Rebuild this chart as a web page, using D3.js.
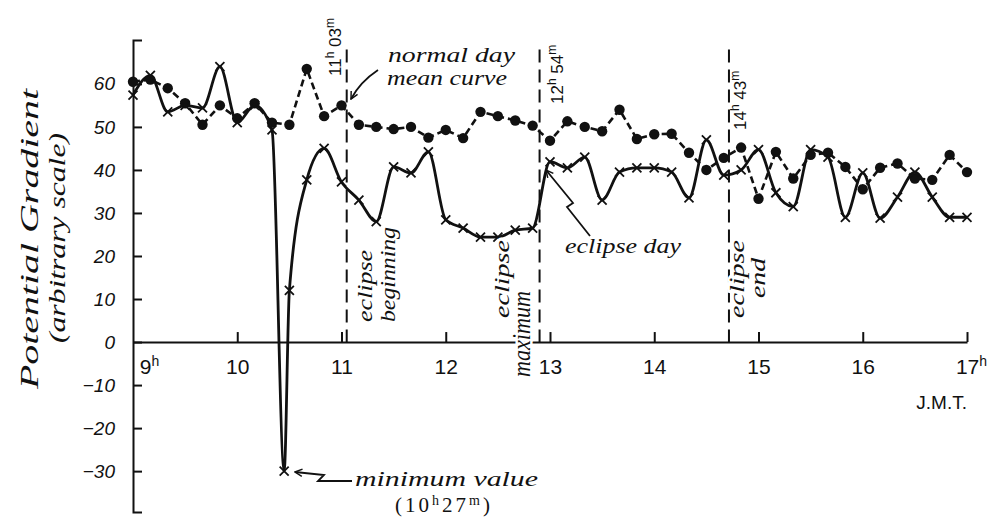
<!DOCTYPE html>
<html>
<head>
<meta charset="utf-8">
<script src="https://cdn.jsdelivr.net/npm/d3@7"></script>
<style>
  body { margin: 0; background: #fff; }
  svg { display: block; }
  .hand { font-family: "Liberation Serif", serif; font-style: italic; fill: #111; }
  .num { font-family: "Liberation Sans", sans-serif; fill: #111; }
</style>
</head>
<body>
<svg id="chart" width="992" height="518"></svg>
<script>
// Potential gradient during the eclipse vs normal-day mean curve

// normal day mean curve: one reading every 10 minutes, 9h to 17h
const normalTimes = [
  "9:00","9:10","9:20","9:30","9:40","9:50",
  "10:00","10:10","10:20","10:30","10:40","10:50",
  "11:00","11:10","11:20","11:30","11:40","11:50",
  "12:00","12:10","12:20","12:30","12:40","12:50",
  "13:00","13:10","13:20","13:30","13:40","13:50",
  "14:00","14:10","14:20","14:30","14:40","14:50",
  "15:00","15:10","15:20","15:30","15:40","15:50",
  "16:00","16:10","16:20","16:30","16:40","16:50","17:00"
];
const normalDay = [
  60.5, 61, 59, 55.5, 50.5, 55,
  52, 55.5, 51, 50.5, 63.5, 52.5,
  55, 50.5, 50, 49.5, 50, 47.5,
  49.3, 47.4, 53.5, 52.5, 51.5, 50.3,
  46.8, 51.3, 50, 49, 54, 47.2,
  48.3, 48.4, 44, 40, 42.8, 45.2,
  33.3, 44.2, 38, 43.5, 44, 40.7,
  35.5, 40.5, 41.5, 38, 37.7, 43.5, 39.5
];

// eclipse day: same readings plus the minimum at 10h27m
const eclipseTimes = [
  "9:00","9:10","9:20","9:30","9:40","9:50",
  "10:00","10:10","10:20","10:27","10:30","10:40","10:50",
  "11:00","11:10","11:20","11:30","11:40","11:50",
  "12:00","12:10","12:20","12:30","12:40","12:50",
  "13:00","13:10","13:20","13:30","13:40","13:50",
  "14:00","14:10","14:20","14:30","14:40","14:50",
  "15:00","15:10","15:20","15:30","15:40","15:50",
  "16:00","16:10","16:20","16:30","16:40","16:50","17:00"
];
const eclipseDay = [
  57.4, 62, 53.5, 55, 54.4, 64,
  51, 55, 49.3, -30, 12, 37.7, 45,
  37.2, 33, 28, 40.7, 39.3, 44.2,
  28.4, 26.5, 24.4, 24.4, 26, 26.5,
  41.9, 40.5, 43, 33, 39.5, 40.5,
  40.5, 39.5, 33.5, 47, 38.8, 40,
  44.7, 34.7, 31.5, 44.7, 43, 29,
  39.3, 28.8, 33.7, 39.5, 33.7, 29, 29
];

const xTicks = [9, 10, 11, 12, 13, 14, 15, 16, 17];
const yTicks = [-30, -20, -10, 0, 10, 20, 30, 40, 50, 60];
const phaseTimes = ["11:03", "12:54", "14:43"];

const toHours = s => { const [h, m] = s.split(':'); return +h + (+m) / 60; };

const svg = d3.select('#chart');

const x = d3.scaleLinear().domain([9, 17]).range([133, 967]);
const y = d3.scaleLinear().domain([-39.5, 70.2]).range([512, 40]);

const defs = svg.append('defs');
defs.append('marker')
  .attr('id', 'arrow')
  .attr('viewBox', '0 0 10 10')
  .attr('refX', 9).attr('refY', 5)
  .attr('markerWidth', 9).attr('markerHeight', 9)
  .attr('markerUnits', 'userSpaceOnUse')
  .attr('orient', 'auto')
  .append('path')
    .attr('d', 'M1,1L9,5L1,9')
    .attr('fill', 'none')
    .attr('stroke', '#111')
    .attr('stroke-width', 1.6);

// axes
const yAxis = d3.axisLeft(y)
  .tickValues(yTicks)
  .tickSize(-9)
  .tickSizeOuter(-9)
  .tickPadding(18);

svg.append('g')
  .attr('transform', `translate(${x(9)},0)`)
  .call(yAxis)
  .call(g => g.selectAll('path, line').attr('stroke', '#111').attr('stroke-width', 2))
  .call(g => g.selectAll('text')
    .attr('class', 'num')
    .style('font-size', '19px')
    .style('font-style', 'italic'));

const xAxis = d3.axisBottom(x)
  .tickValues(xTicks)
  .tickSize(-10)
  .tickSizeOuter(0)
  .tickPadding(17)
  .tickFormat(d => d);

svg.append('g')
  .attr('transform', `translate(0,${y(0)})`)
  .call(xAxis)
  .call(g => g.selectAll('path, line').attr('stroke', '#111').attr('stroke-width', 2))
  .call(g => g.selectAll('.tick').filter(d => d === 9).select('line').remove())
  .call(g => g.selectAll('text')
    .attr('class', 'num')
    .style('font-size', '21px')
    .each(function(d) {
      if (d === 9 || d === 17) {
        d3.select(this).append('tspan')
          .attr('baseline-shift', 'super')
          .style('font-size', '14px')
          .text('h');
      }
      if (d === 9) d3.select(this).attr('dx', 16);
      if (d === 17) d3.select(this).attr('dx', 4);
    }));

svg.append('text')
  .attr('class', 'num')
  .attr('x', x(17))
  .attr('y', 409)
  .attr('text-anchor', 'end')
  .style('font-size', '19px')
  .text('J.M.T.');

// axis title
const title = svg.append('g').attr('class', 'hand');
title.append('text')
  .attr('transform', 'translate(38,239) rotate(-90)')
  .attr('text-anchor', 'middle')
  .attr('textLength', 300)
  .attr('lengthAdjust', 'spacingAndGlyphs')
  .style('font-size', '25px')
  .text('Potential Gradient');
title.append('text')
  .attr('transform', 'translate(65,238) rotate(-90)')
  .attr('text-anchor', 'middle')
  .attr('textLength', 210)
  .attr('lengthAdjust', 'spacingAndGlyphs')
  .style('font-size', '24px')
  .text('(arbitrary scale)');

// eclipse phase lines
svg.append('g')
  .selectAll('line')
  .data(phaseTimes)
  .join('line')
    .attr('x1', d => x(toHours(d)))
    .attr('x2', d => x(toHours(d)))
    .attr('y1', y(68))
    .attr('y2', y(0))
    .attr('stroke', '#111')
    .attr('stroke-width', 2)
    .attr('stroke-dasharray', '13,7');

// phase time labels
const phaseLabelPos = [
  { tx: 341, ty: 76 },
  { tx: 563, ty: 104 },
  { tx: 746, ty: 130 }
];
phaseTimes.forEach((t, i) => {
  const [h, m] = t.split(':');
  const txt = svg.append('text')
    .attr('class', 'num')
    .attr('transform', `translate(${phaseLabelPos[i].tx},${phaseLabelPos[i].ty}) rotate(-90)`)
    .style('font-size', '17px');
  txt.append('tspan').text(h);
  txt.append('tspan').attr('baseline-shift', 'super').style('font-size', '12px').text('h');
  txt.append('tspan').text(' ' + m);
  txt.append('tspan').attr('baseline-shift', 'super').style('font-size', '12px').text('m');
});

// normal day mean curve
const normal = normalTimes.map((t, i) => ({ h: toHours(t), v: normalDay[i] }));
const eclipse = eclipseTimes.map((t, i) => ({ h: toHours(t), v: eclipseDay[i] }));

svg.append('path')
  .datum(normal)
  .attr('fill', 'none')
  .attr('stroke', '#111')
  .attr('stroke-width', 2.6)
  .attr('stroke-dasharray', '7,4')
  .attr('d', d3.line().x(d => x(d.h)).y(d => y(d.v)));

svg.append('g')
  .selectAll('circle')
  .data(normal)
  .join('circle')
    .attr('cx', d => x(d.h))
    .attr('cy', d => y(d.v))
    .attr('r', 5.2)
    .attr('fill', '#111');

// eclipse day curve
svg.append('path')
  .datum(eclipse)
  .attr('fill', 'none')
  .attr('stroke', '#111')
  .attr('stroke-width', 2.8)
  .attr('d', d3.line().x(d => x(d.h)).y(d => y(d.v)).curve(d3.curveMonotoneX));

svg.append('g')
  .selectAll('path')
  .data(eclipse)
  .join('path')
    .attr('transform', d => `translate(${x(d.h)},${y(d.v)})`)
    .attr('d', 'M-4.5,-4.5L4.5,4.5M-4.5,4.5L4.5,-4.5')
    .attr('stroke', '#111')
    .attr('stroke-width', 1.8);

// annotations
const notes = svg.append('g').attr('class', 'hand');

notes.append('text').attr('x', 388).attr('y', 62)
  .attr('textLength', 127).attr('lengthAdjust', 'spacingAndGlyphs')
  .style('font-size', '22px').text('normal day');
notes.append('text').attr('x', 387).attr('y', 85)
  .attr('textLength', 120).attr('lengthAdjust', 'spacingAndGlyphs')
  .style('font-size', '22px').text('mean curve');

notes.append('text').attr('x', 565).attr('y', 253)
  .attr('textLength', 116).attr('lengthAdjust', 'spacingAndGlyphs')
  .style('font-size', '22px').text('eclipse day');

notes.append('text').attr('x', 355).attr('y', 486)
  .attr('textLength', 183).attr('lengthAdjust', 'spacingAndGlyphs')
  .style('font-size', '22px').text('minimum value');
const minLabel = notes.append('text').attr('x', 395).attr('y', 512)
  .attr('textLength', 95)
  .style('font-size', '21px').style('font-style', 'normal');
minLabel.append('tspan').text('(10');
minLabel.append('tspan').attr('baseline-shift', 'super').style('font-size', '14px').text('h');
minLabel.append('tspan').text('27');
minLabel.append('tspan').attr('baseline-shift', 'super').style('font-size', '14px').text('m');
minLabel.append('tspan').text(')');

const rotated = [
  { text: 'eclipse', tx: 372, ty: 322, len: 72, size: 22 },
  { text: 'beginning', tx: 395, ty: 322, len: 95, size: 22 },
  { text: 'eclipse', tx: 509, ty: 318, len: 78, size: 22 },
  { text: 'maximum', tx: 530, ty: 377, len: 86, size: 25 },
  { text: 'eclipse', tx: 744, ty: 318, len: 78, size: 22 },
  { text: 'end', tx: 765, ty: 298, len: 40, size: 22 }
];
notes.selectAll('text.rot')
  .data(rotated)
  .join('text')
    .attr('class', 'rot')
    .attr('transform', d => `translate(${d.tx},${d.ty}) rotate(-90)`)
    .attr('textLength', d => d.len)
    .attr('lengthAdjust', 'spacingAndGlyphs')
    .attr('stroke', '#fff')
    .attr('stroke-width', 5)
    .attr('paint-order', 'stroke')
    .style('font-size', d => d.size + 'px')
    .text(d => d.text);

// arrows
const arrows = [
  'M378,70 Q360,82 351,99',
  'M590,236 L567,207 L573,203 L546,170',
  'M352,481 L318,481 L324,475 L295,472'
];
svg.append('g')
  .selectAll('path')
  .data(arrows)
  .join('path')
    .attr('d', d => d)
    .attr('fill', 'none')
    .attr('stroke', '#111')
    .attr('stroke-width', 1.8)
    .attr('marker-end', 'url(#arrow)');
</script>
</body>
</html>
